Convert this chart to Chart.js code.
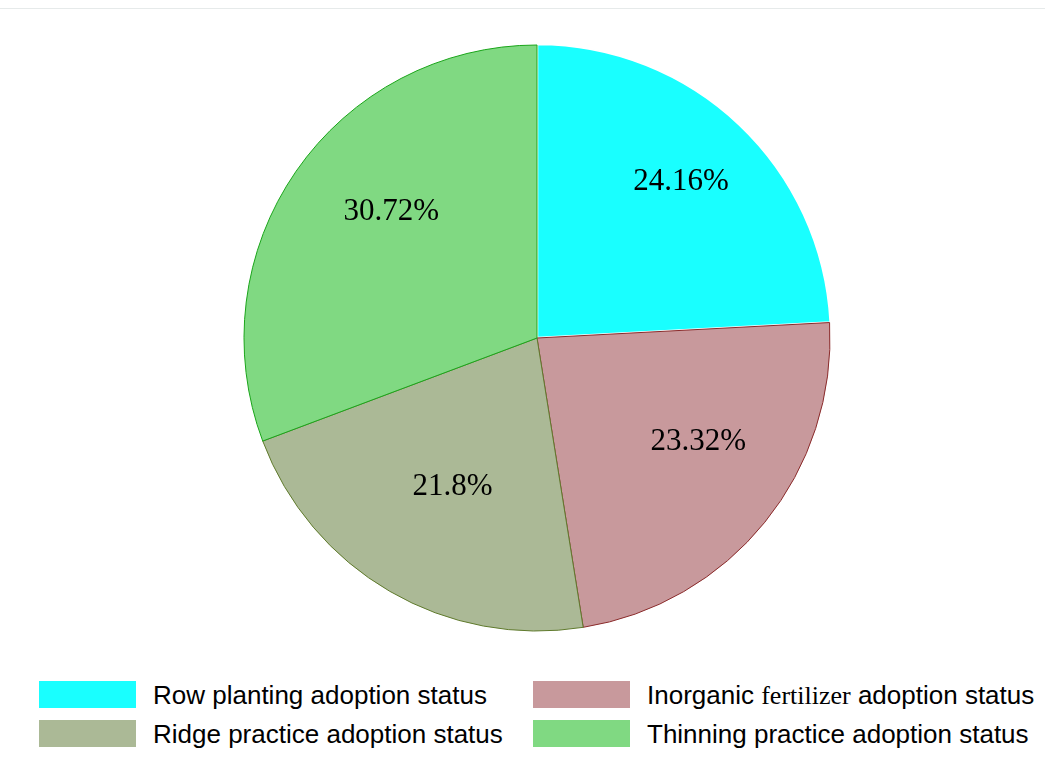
<!DOCTYPE html>
<html>
<head>
<meta charset="utf-8">
<script src="https://cdn.jsdelivr.net/npm/chart.js@4/dist/chart.umd.min.js"></script>
<style>
  body { margin: 0; background: #fff; width: 1053px; height: 770px; position: relative; overflow: hidden; }
  #topline { position: absolute; left: 0; top: 8px; width: 1045px; height: 0; border-top: 1px solid #e6eaea; }
  #chart { position: absolute; left: 0; top: 0; }
  #legend { position: absolute; left: 39px; top: 681px; display: grid; grid-template-columns: 494px 494px; grid-auto-rows: 39px; }
  .item { display: flex; align-items: flex-start; font-family: "Liberation Sans", Arial, sans-serif; font-size: 26px; color: #000; }
  .box { width: 97px; height: 27px; margin-right: 17px; flex: none; }
  .item span.txt { line-height: 28px; white-space: nowrap; }
  .serif { font-family: "Liberation Serif", "Times New Roman", serif; }
</style>
</head>
<body>
<div id="topline"></div>
<canvas id="chart" width="1053" height="676"></canvas>
<div id="legend"></div>
<script>
// data
var categories = ["Row planting adoption status", "Inorganic fertilizer adoption status", "Ridge practice adoption status", "Thinning practice adoption status"];
var shares = [24.16, 23.32, 21.8, 30.72];
var pctLabels = ["24.16%", "23.32%", "21.8%", "30.72%"];

var fillColors = ["#19ffff", "#c8999c", "#abb996", "#80d982"];
var edgeColors = ["#ffffff", "#8a2a2a", "#5f7a2c", "#1aa51a"];

// percentage text drawn inside each slice
const sliceLabels = {
    id: 'sliceLabels',
    afterDatasetsDraw(chart) {
        const ctx = chart.ctx;
        const meta = chart.getDatasetMeta(0);
        ctx.save();
        ctx.font = '31px "Liberation Serif", "Times New Roman", serif';
        ctx.fillStyle = '#000';
        ctx.textAlign = 'center';
        ctx.textBaseline = 'middle';
        meta.data.forEach(function (arc, i) {
            const p = arc.getProps(['x', 'y', 'startAngle', 'endAngle', 'outerRadius'], true);
            const mid = (p.startAngle + p.endAngle) / 2;
            const r = p.outerRadius * 0.655;
            // labels in the original sit a little up and right of the bisector point
            ctx.fillText(pctLabels[i], p.x + 12 + Math.cos(mid) * r, p.y - 17 + Math.sin(mid) * r);
        });
        ctx.restore();
    }
};

new Chart(document.getElementById('chart'), {
    type: 'pie',
    data: {
        labels: categories,
        datasets: [{
            data: shares,
            backgroundColor: fillColors,
            borderColor: edgeColors,
            borderWidth: [1.5, 1, 1, 1],
            offset: [3, 0, 0, 0]
        }]
    },
    options: {
        responsive: false,
        animation: false,
        radius: 293,
        layout: { padding: { top: 45, bottom: 45, left: 21, right: 0 } },
        plugins: {
            legend: { display: false },
            tooltip: { enabled: false }
        }
    },
    plugins: [sliceLabels]
});

// html legend (the word "fertilizer" is set in a serif face in the original)
var legend = document.getElementById('legend');
categories.forEach(function (name, i) {
    var item = document.createElement('div');
    item.className = 'item';
    var box = document.createElement('div');
    box.className = 'box';
    box.style.background = fillColors[i];
    var txt = document.createElement('span');
    txt.className = 'txt';
    txt.innerHTML = name.replace('fertilizer', '<span class="serif">fertilizer</span>');
    item.appendChild(box);
    item.appendChild(txt);
    legend.appendChild(item);
});
</script>
</body>
</html>
